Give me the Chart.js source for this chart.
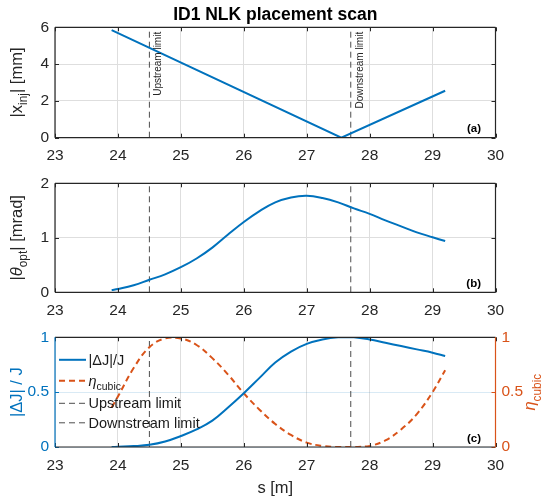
<!DOCTYPE html>
<html>
<head>
<meta charset="utf-8">
<title>ID1 NLK placement scan</title>
<script src="https://cdn.jsdelivr.net/npm/chart.js@4.4.1/dist/chart.umd.min.js"></script>
<style>
  html, body { margin: 0; padding: 0; background: #fff; }
  #wrap { position: relative; width: 550px; height: 503px; overflow: hidden; }
  canvas { position: absolute; left: 0; }
</style>
</head>
<body>
<div id="wrap">
  <canvas id="panelA" width="550" height="168" style="top:0px"></canvas>
  <canvas id="panelB" width="550" height="154" style="top:168px"></canvas>
  <canvas id="panelC" width="550" height="181" style="top:322px"></canvas>
</div>
<script>
// ---- data ----
const sInj = [23.9, 27.55, 29.2];
const xInj = [5.85, 0, 2.55];

const sScan = [23.9, 24.0, 24.25, 24.5, 24.75, 25.0, 25.25, 25.5, 25.75, 26.0, 26.25, 26.5,
               26.75, 27.0, 27.25, 27.5, 27.75, 28.0, 28.25, 28.5, 28.75, 29.0, 29.2];
const thetaOpt = [0.04, 0.06, 0.13, 0.23, 0.33, 0.46, 0.62, 0.82, 1.06, 1.29, 1.49, 1.65,
                  1.74, 1.77, 1.73, 1.65, 1.54, 1.44, 1.32, 1.21, 1.10, 1.01, 0.94];
const deltaJ = [0, 0.002, 0.008, 0.02, 0.05, 0.10, 0.16, 0.24, 0.36, 0.49, 0.63, 0.77,
                0.87, 0.94, 0.98, 1.0, 1.0, 0.98, 0.95, 0.92, 0.89, 0.86, 0.83];
const etaCubic = [0.36, 0.46, 0.72, 0.91, 0.99, 0.99, 0.93, 0.81, 0.66, 0.49, 0.34, 0.21,
                  0.11, 0.04, 0.01, 0, 0, 0.01, 0.06, 0.16, 0.30, 0.50, 0.70];

const limitNames = ['Upstream limit', 'Downstream limit'];
const limitPos = [24.5, 27.7];

const sRange = [23, 30];
const injRange = [0, 6];
const thetaRange = [0, 2];
const fracRange = [0, 1];
const panelTags = ['(a)', '(b)', '(c)'];

// ---- look ----
const FONT = "'Liberation Sans', Arial, sans-serif";
const AXIS_GRAY = '#262626';
const GRID_GRAY = '#dedede';
const BLUE = '#0072BD';
const ORANGE = '#D95319';
const LIMIT_GRAY = '#4d4d4d';
const PLOT_LEFT = 55;
const PLOT_RIGHT = 495.5;

function pts(xs, ys) {
    return xs.map((x, i) => ({ x: x, y: ys[i] }));
}

function limitSets(yr) {
    return limitPos.map((p, i) => ({
        label: limitNames[i],
        data: [{ x: p, y: yr[0] }, { x: p, y: yr[1] }],
        borderColor: LIMIT_GRAY,
        borderWidth: 1,
        borderDash: [6, 4],
        pointRadius: 0
    }));
}

function xScale(h) {
    return {
        type: 'linear',
        min: sRange[0], max: sRange[1],
        ticks: { stepSize: 1, color: AXIS_GRAY, font: { family: FONT, size: 15.5 }, padding: 9 },
        grid: { color: GRID_GRAY, drawTicks: false },
        border: { display: false },
        afterFit: s => { s.height = h; }
    };
}

function yScale(yr, step, color, gridColor, pos, width) {
    return {
        type: 'linear',
        position: pos || 'left',
        min: yr[0], max: yr[1],
        ticks: { stepSize: step, color: color, font: { family: FONT, size: 15.5 }, padding: 6,
                 callback: v => String(v) },
        grid: { color: gridColor, drawTicks: false, drawOnChartArea: gridColor !== null },
        border: { display: false },
        afterFit: s => { s.width = width; }
    };
}

function line(ctx, x1, y1, x2, y2) {
    ctx.beginPath();
    ctx.moveTo(x1, y1);
    ctx.lineTo(x2, y2);
    ctx.stroke();
}

// text with subscripts / italics, optionally rotated
function richText(ctx, parts, x, y, o) {
    const subSize = o.size * 0.72;
    const fontFor = p => (p.it ? 'italic ' : '') + (o.bold ? 'bold ' : '') + (p.sub ? subSize : o.size) + 'px ' + FONT;
    ctx.save();
    ctx.translate(x, y);
    if (o.rotate) ctx.rotate(o.rotate);
    ctx.fillStyle = o.color;
    ctx.textBaseline = 'alphabetic';
    ctx.textAlign = 'left';
    let total = 0;
    const widths = parts.map(p => {
        ctx.font = fontFor(p);
        const w = ctx.measureText(p.t).width;
        total += w;
        return w;
    });
    let cx = o.align === 'left' ? 0 : -total / 2;
    parts.forEach((p, i) => {
        ctx.font = fontFor(p);
        ctx.fillText(p.t, cx, p.sub ? o.subShift : 0);
        cx += widths[i];
    });
    ctx.restore();
}

// box, inward ticks, labels drawn on top of the chart
function decorPlugin(cfg) {
    return {
        id: 'decor',
        afterDraw(chart) {
            const ctx = chart.ctx;
            const a = chart.chartArea;
            const xs = chart.scales.x;
            const ys = chart.scales.y;
            const yr = chart.scales.y1;
            ctx.save();
            ctx.lineWidth = 1;

            ctx.strokeStyle = AXIS_GRAY;
            xs.ticks.forEach(t => {
                const px = Math.round(xs.getPixelForValue(t.value)) + 0.5;
                line(ctx, px, a.bottom, px, a.bottom - 4);
                line(ctx, px, a.top, px, a.top + 4);
            });
            ctx.strokeStyle = cfg.leftColor || AXIS_GRAY;
            ys.ticks.forEach(t => {
                const py = Math.round(ys.getPixelForValue(t.value)) + 0.5;
                line(ctx, a.left, py, a.left + 4, py);
                if (!yr) {
                    line(ctx, a.right, py, a.right - 4, py);
                }
            });
            if (yr) {
                ctx.strokeStyle = cfg.rightColor;
                yr.ticks.forEach(t => {
                    const py = Math.round(yr.getPixelForValue(t.value)) + 0.5;
                    line(ctx, a.right, py, a.right - 4, py);
                });
            }

            // box
            ctx.lineWidth = 1.2;
            ctx.strokeStyle = AXIS_GRAY;
            line(ctx, a.left, a.top, a.right, a.top);
            line(ctx, a.left, a.bottom, a.right, a.bottom);
            ctx.strokeStyle = cfg.leftColor || AXIS_GRAY;
            line(ctx, a.left, a.top, a.left, a.bottom);
            ctx.strokeStyle = cfg.rightColor || AXIS_GRAY;
            line(ctx, a.right, a.top, a.right, a.bottom);

            // panel tag
            ctx.fillStyle = '#000';
            ctx.font = 'bold 11.5px ' + FONT;
            ctx.textAlign = 'right';
            ctx.textBaseline = 'alphabetic';
            ctx.fillText(cfg.tag, a.right - 14.5, a.bottom - 5.5);

            // y labels
            const midY = (a.top + a.bottom) / 2;
            richText(ctx, cfg.yLabel, 22, midY,
                { size: 16.5, color: cfg.leftColor || AXIS_GRAY, rotate: -Math.PI / 2, subShift: 4.5 });
            if (cfg.yLabelRight) {
                richText(ctx, cfg.yLabelRight, 535, midY,
                    { size: 16.5, color: cfg.rightColor, rotate: -Math.PI / 2, subShift: 6 });
            }
            if (cfg.title) {
                ctx.fillStyle = '#000';
                ctx.font = 'bold 17.5px ' + FONT;
                ctx.textAlign = 'center';
                ctx.fillText(cfg.title, (a.left + a.right) / 2, a.top - 7.5);
            }
            if (cfg.limitText) {
                ctx.fillStyle = AXIS_GRAY;
                ctx.font = '10px ' + FONT;
                limitPos.forEach((p, i) => {
                    ctx.save();
                    ctx.translate(xs.getPixelForValue(p) + 9, a.top + 4.5);
                    ctx.rotate(-Math.PI / 2);
                    ctx.textAlign = 'right';
                    ctx.textBaseline = 'middle';
                    ctx.fillText(limitNames[i], 0, 0);
                    ctx.restore();
                });
            }
            if (cfg.xLabel) {
                ctx.fillStyle = AXIS_GRAY;
                ctx.font = '16.5px ' + FONT;
                ctx.textAlign = 'center';
                ctx.textBaseline = 'alphabetic';
                ctx.fillText(cfg.xLabel, (a.left + a.right) / 2, a.bottom + 46);
            }
            if (cfg.legend) {
                const rows = [22.5, 43.5, 66, 85.5];
                chart.data.datasets.forEach((ds, i) => {
                    const y = a.top + rows[i];
                    ctx.save();
                    ctx.strokeStyle = ds.borderColor;
                    ctx.lineWidth = ds.borderWidth;
                    ctx.setLineDash(ds.borderDash || []);
                    line(ctx, a.left + 4, y, a.left + 31, y);
                    ctx.restore();
                    richText(ctx, cfg.legend[i], a.left + 33.5, y + 5, { size: 14.5, color: '#1a1a1a', align: 'left', subShift: 4.5 });
                });
            }
            ctx.restore();
        }
    };
}

const baseOpts = {
    responsive: false,
    animation: false,
    events: [],
    plugins: { legend: { display: false }, tooltip: { enabled: false } }
};

// (a) injection offset
new Chart(document.getElementById('panelA'), {
    type: 'line',
    data: {
        datasets: [
            { label: '|x_inj|', data: pts(sInj, xInj), borderColor: BLUE, borderWidth: 2, pointRadius: 0 }
        ].concat(limitSets(injRange))
    },
    options: Object.assign({}, baseOpts, {
        layout: { padding: { top: 27.3, right: 550 - PLOT_RIGHT, left: 0, bottom: 0 } },
        scales: { x: xScale(30.3), y: yScale(injRange, 2, AXIS_GRAY, GRID_GRAY, 'left', PLOT_LEFT) }
    }),
    plugins: [decorPlugin({
        tag: panelTags[0],
        title: 'ID1 NLK placement scan',
        limitText: true,
        yLabel: [{ t: '|x' }, { t: 'inj', sub: true }, { t: '| [mm]' }]
    })]
});

// (b) optimum kick angle
new Chart(document.getElementById('panelB'), {
    type: 'line',
    data: {
        datasets: [
            { label: '|theta_opt|', data: pts(sScan, thetaOpt), borderColor: BLUE, borderWidth: 2, pointRadius: 0,
              tension: 0.4 }
        ].concat(limitSets(thetaRange))
    },
    options: Object.assign({}, baseOpts, {
        layout: { padding: { top: 15, right: 550 - PLOT_RIGHT, left: 0, bottom: 0 } },
        scales: { x: xScale(29.7), y: yScale(thetaRange, 1, AXIS_GRAY, GRID_GRAY, 'left', PLOT_LEFT) }
    }),
    plugins: [decorPlugin({
        tag: panelTags[1],
        yLabel: [{ t: '|' }, { t: '\u03b8', it: true }, { t: 'opt', sub: true }, { t: '| [mrad]' }]
    })]
});

// (c) relative current change and cubic efficiency
new Chart(document.getElementById('panelC'), {
    type: 'line',
    data: {
        datasets: [
            { label: '|dJ|/J', data: pts(sScan, deltaJ), borderColor: BLUE, borderWidth: 2, pointRadius: 0,
              tension: 0.4, yAxisID: 'y' },
            { label: 'eta_cubic', data: pts(sScan, etaCubic), borderColor: ORANGE, borderWidth: 2, pointRadius: 0,
              borderDash: [6, 4], tension: 0.4, yAxisID: 'y1' }
        ].concat(limitSets(fracRange))
    },
    options: Object.assign({}, baseOpts, {
        layout: { padding: { top: 14, right: 0, left: 0, bottom: 0 } },
        scales: {
            x: xScale(56),
            y: yScale(fracRange, 0.5, BLUE, 'rgba(0,114,189,0.15)', 'left', PLOT_LEFT),
            y1: yScale(fracRange, 0.5, ORANGE, null, 'right', 550 - PLOT_RIGHT)
        }
    }),
    plugins: [decorPlugin({
        tag: panelTags[2],
        leftColor: BLUE,
        rightColor: ORANGE,
        xLabel: 's [m]',
        yLabel: [{ t: '|\u0394J| / J' }],
        yLabelRight: [{ t: '\u03b7', it: true }, { t: 'cubic', sub: true }],
        legend: [
            [{ t: '|\u0394J|/J' }],
            [{ t: '\u03b7', it: true }, { t: 'cubic', sub: true }],
            [{ t: limitNames[0] }],
            [{ t: limitNames[1] }]
        ]
    })]
});
</script>
</body>
</html>
